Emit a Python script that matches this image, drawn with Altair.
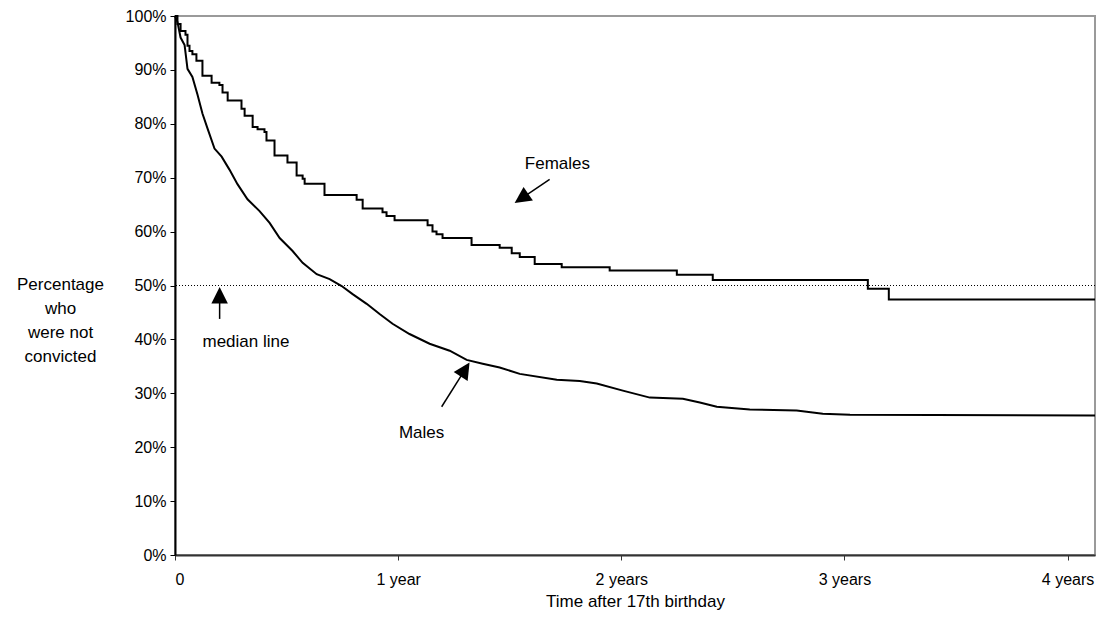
import altair as alt
import pandas as pd

FONT = "Liberation Sans"

# Females (step function), time in years, percentage not convicted
fem_t = [0.0, 0.011, 0.025, 0.047, 0.056, 0.065, 0.078, 0.096, 0.123, 0.164, 0.199, 0.213,
         0.236, 0.298, 0.312, 0.348, 0.370, 0.401, 0.410, 0.446, 0.504, 0.545, 0.572, 0.581,
         0.670, 0.814, 0.841, 0.930, 0.948, 0.984, 1.132, 1.154, 1.172, 1.199, 1.329, 1.455,
         1.509, 1.545, 1.612, 1.733, 1.948, 2.249, 2.410, 3.105, 3.199, 4.123]
fem_p = [100.0, 98.5, 97.2, 96.5, 94.5, 93.5, 92.9, 91.7, 88.9, 87.6, 87.2, 85.8,
         84.3, 82.8, 81.5, 79.4, 79.0, 78.5, 76.9, 74.1, 72.8, 70.4, 69.8, 68.9,
         66.8, 65.9, 64.3, 63.6, 62.9, 62.1, 61.2, 60.0, 59.5, 58.8, 57.5, 57.0,
         56.0, 55.3, 54.0, 53.4, 52.8, 52.0, 51.0, 49.4, 47.4, 47.4]

# Males
male_t = [0.0, 0.011, 0.025, 0.043, 0.056, 0.078, 0.101, 0.123, 0.146, 0.177, 0.209, 0.244,
          0.280, 0.325, 0.379, 0.424, 0.469, 0.527, 0.572, 0.635, 0.693, 0.747, 0.796, 0.859,
          0.917, 0.975, 1.051, 1.141, 1.231, 1.307, 1.379, 1.455, 1.545, 1.711, 1.814, 1.890,
          2.007, 2.128, 2.276, 2.352, 2.428, 2.576, 2.786, 2.903, 3.025, 4.123]
male_p = [100.0, 98.9, 96.0, 94.6, 90.2, 88.7, 85.4, 81.9, 79.1, 75.4, 73.9, 71.5,
          68.8, 66.0, 63.8, 61.6, 58.8, 56.4, 54.2, 52.1, 51.2, 49.9, 48.4, 46.6,
          44.7, 42.9, 41.0, 39.2, 37.9, 36.2, 35.5, 34.8, 33.6, 32.5, 32.3, 31.8,
          30.5, 29.2, 29.0, 28.3, 27.5, 27.0, 26.8, 26.2, 26.0, 25.9]

median_value = 50

# Annotations
ann_labels = ["Females", "Males", "median line"]
ann_t = [1.714, 1.105, 0.318]
ann_p = [72.5, 22.7, 39.6]

# Arrows: tail and tip positions (data units), head angle (degrees)
arr_tail_t = [1.679, 1.195, 0.200]
arr_tail_p = [69.7, 27.5, 43.8]
arr_tip_t = [1.522, 1.320, 0.200]
arr_tip_p = [65.3, 35.7, 49.7]
arr_angle = [235.6, 32.5, 0.0]
arr_frac = [0.24, 0.19, 0.30]

x_ticks = [0, 1, 2, 3, 4]
y_ticks = list(range(0, 101, 10))

fem_df = pd.DataFrame({"t": fem_t, "p": fem_p})
male_df = pd.DataFrame({"t": male_t, "p": male_p})
ann_df = pd.DataFrame({"label": ann_labels, "t": ann_t, "p": ann_p})
arr_df = pd.DataFrame({
    "t1": arr_tail_t, "p1": arr_tail_p,
    "t2": [tp + (tl - tp) * f for tp, tl, f in zip(arr_tip_t, arr_tail_t, arr_frac)],
    "p2": [tp + (tl - tp) * f for tp, tl, f in zip(arr_tip_p, arr_tail_p, arr_frac)],
    "tt": arr_tip_t, "pt": arr_tip_p, "angle": arr_angle,
})
med_df = pd.DataFrame({"p": [median_value]})

x_scale = alt.Scale(domain=[0, 4.123], nice=False, zero=False)
y_scale = alt.Scale(domain=[0, 100], nice=False)

x_axis = alt.Axis(
    values=x_ticks,
    labelExpr="datum.value == 0 ? '0' : (datum.value == 1 ? '1 year' : datum.value + ' years')",
    grid=False, domainColor="#333333", domainWidth=2, tickColor="#333333", tickWidth=1,
    tickSize=5, labelFont=FONT, labelFontSize=16, labelColor="black", labelPadding=11,
    title="Time after 17th birthday", titleFont=FONT, titleFontSize=17,
    titleFontWeight="normal", titleColor="black", titlePadding=6,
)
y_axis = alt.Axis(
    values=y_ticks, labelExpr="datum.value + '%'",
    grid=False, domainColor="black", domainWidth=2, tickColor="black", tickWidth=1,
    tickSize=5, labelFont=FONT, labelFontSize=16, labelColor="black", labelPadding=4,
    title=["Percentage", "who", "were not", "convicted"], titleFont=FONT, titleFontSize=17,
    titleFontWeight="normal", titleColor="black", titleAngle=0, titleAlign="center",
    titleBaseline="middle", titleX=-115, titleY=268, titleLineHeight=24,
)

def X(f="t"):
    return alt.X(f"{f}:Q", scale=x_scale, axis=x_axis)

def Y(f="p"):
    return alt.Y(f"{f}:Q", scale=y_scale, axis=y_axis)

median = alt.Chart(med_df).mark_rule(color="black", strokeWidth=1, strokeDash=[1, 2]).encode(
    y=Y("p"))

fem = alt.Chart(fem_df).mark_line(color="black", strokeWidth=2, interpolate="step-after").encode(
    x=X(), y=Y())
male = alt.Chart(male_df).mark_line(color="black", strokeWidth=2).encode(x=X(), y=Y())

arrow_lines = alt.Chart(arr_df).mark_rule(color="black", strokeWidth=1.5).encode(
    x=X("t1"), y=Y("p1"), x2="t2:Q", y2="p2:Q")
arrow_heads = alt.Chart(arr_df).mark_point(
    shape="M0,0 L0.5,1 L-0.5,1 Z", filled=True, color="black", opacity=1, size=1089,
    strokeWidth=0).encode(
    x=X("tt"), y=Y("pt"), angle=alt.Angle("angle:Q", scale=None))

labels = alt.Chart(ann_df).mark_text(font=FONT, fontSize=17, color="black",
                                     align="center", baseline="middle").encode(
    x=X(), y=Y(), text="label:N")

chart = alt.layer(median, fem, male, arrow_lines, arrow_heads, labels).properties(
    width=920, height=539,
    padding={"left": 167, "top": 8, "right": 3, "bottom": 62},
    autosize=alt.AutoSizeParams(type="none"),
    background="white",
).configure_view(stroke="#9a9a9a", strokeWidth=2)

chart.save("out.html", embed_options={"renderer": "svg", "actions": False})
